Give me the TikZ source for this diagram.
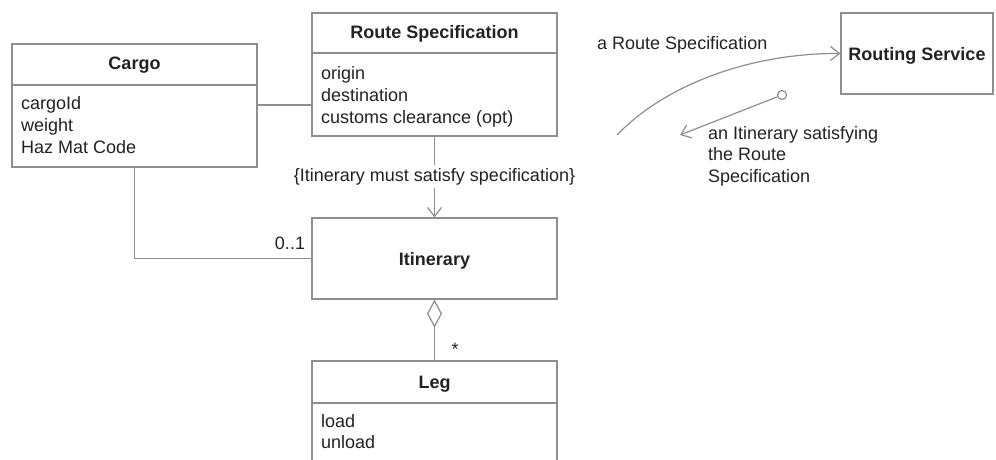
\documentclass[tikz,border=0pt]{standalone}
\usepackage{fontspec}
\setmainfont{Liberation Sans}
\usetikzlibrary{arrows.meta,shapes.geometric}
\definecolor{ln}{HTML}{8E8E8E}
\definecolor{tx}{HTML}{222222}
\begin{document}
\begin{tikzpicture}[x=1pt,y=-1pt,
  every node/.style={font=\fontsize{18}{21.5}\selectfont, text=tx},
  umlbox/.style={draw=ln, line width=1.2pt, rectangle, inner sep=0},
  conn/.style={draw=ln, line width=1.2pt},
  title/.style={font=\fontsize{18}{21.5}\selectfont\bfseries, anchor=base, inner sep=0},
  attr/.style={anchor=base west, inner sep=0},
  lbl/.style={inner sep=0},
  openarrow/.style={-{Straight Barb[length=9pt,width=14pt,line width=1.2pt]}}
]
\useasboundingbox (0,0) rectangle (996,460);

% Cargo
\node[umlbox, minimum width=245pt, minimum height=123pt] (cargo) at (134.5,105.5) {};
\draw[conn] (cargo.west |- 0,85) -- (cargo.east |- 0,85);
\node[title] (cargot) at (134.5,70) {Cargo};
\node[attr] (cargoa1) at (21,110) {cargoId};
\node[attr] (cargoa2) at (21,131.5) {weight};
\node[attr] (cargoa3) at (21,153) {Haz Mat Code};

% Route Specification
\node[umlbox, minimum width=245pt, minimum height=123pt] (rs) at (434.5,74.5) {};
\draw[conn] (rs.west |- 0,53) -- (rs.east |- 0,53);
\node[title] (rst) at (434.5,39) {Route Specification};
\node[attr] (rsa1) at (321,80) {origin};
\node[attr] (rsa2) at (321,101.5) {destination};
\node[attr] (rsa3) at (321,123) {customs clearance (opt)};

% Itinerary
\node[umlbox, minimum width=245pt, minimum height=81pt] (itin) at (434.5,258.5) {};
\node[title] (itint) at (434.5,265) {Itinerary};

% Leg
\node[umlbox, minimum width=245pt, minimum height=109pt] (leg) at (434.5,415.5) {};
\draw[conn] (leg.west |- 0,403) -- (leg.east |- 0,403);
\node[title] (legt) at (434.5,388) {Leg};
\node[attr] (lega1) at (321,427) {load};
\node[attr] (lega2) at (321,448.5) {unload};

% Routing Service
\node[umlbox, minimum width=152pt, minimum height=81pt] (rsvc) at (917,53.5) {};
\node[title] (rsvct) at (917,61) {Routing Service};

% connectors
\draw[conn] (cargo.east |- 0,105) -- (rs.west |- 0,105);
\draw[conn] (cargo.south) |- (itin.west);
\node[lbl] (mult01) at (290,243) {0..1};

\draw[conn, openarrow] (rs.south) -- (itin.north);
\node[lbl, fill=white, inner ysep=3pt, inner xsep=2pt, anchor=base] (constr) at (434.5,181) {\{Itinerary must satisfy specification\}};

\draw[conn, {Diamond[open, fill=white, length=28pt, width=15pt, line width=1.2pt]}-] (itin.south) -- (leg.north);
\node[lbl] (multstar) at (455,349) {*};

% Routing service interaction
\coordinate (rsfrom) at (617,135);
\draw[conn, openarrow] (rsfrom) .. controls (665,85) and (750,53) .. (rsvc.west);
\node[attr] (rsmsg) at (597,50) {a Route Specification};

\node[circle, draw=ln, line width=1.2pt, minimum size=9pt, inner sep=0, fill=white] (lollipop) at (782,95) {};
\coordinate (itinret) at (680,135);
\draw[conn, openarrow] (lollipop) -- (itinret);
\node[attr] (retmsg1) at (708,139) {an Itinerary satisfying};
\node[attr] (retmsg2) at (708,160.5) {the Route};
\node[attr] (retmsg3) at (708,182) {Specification};
\end{tikzpicture}
\end{document}
